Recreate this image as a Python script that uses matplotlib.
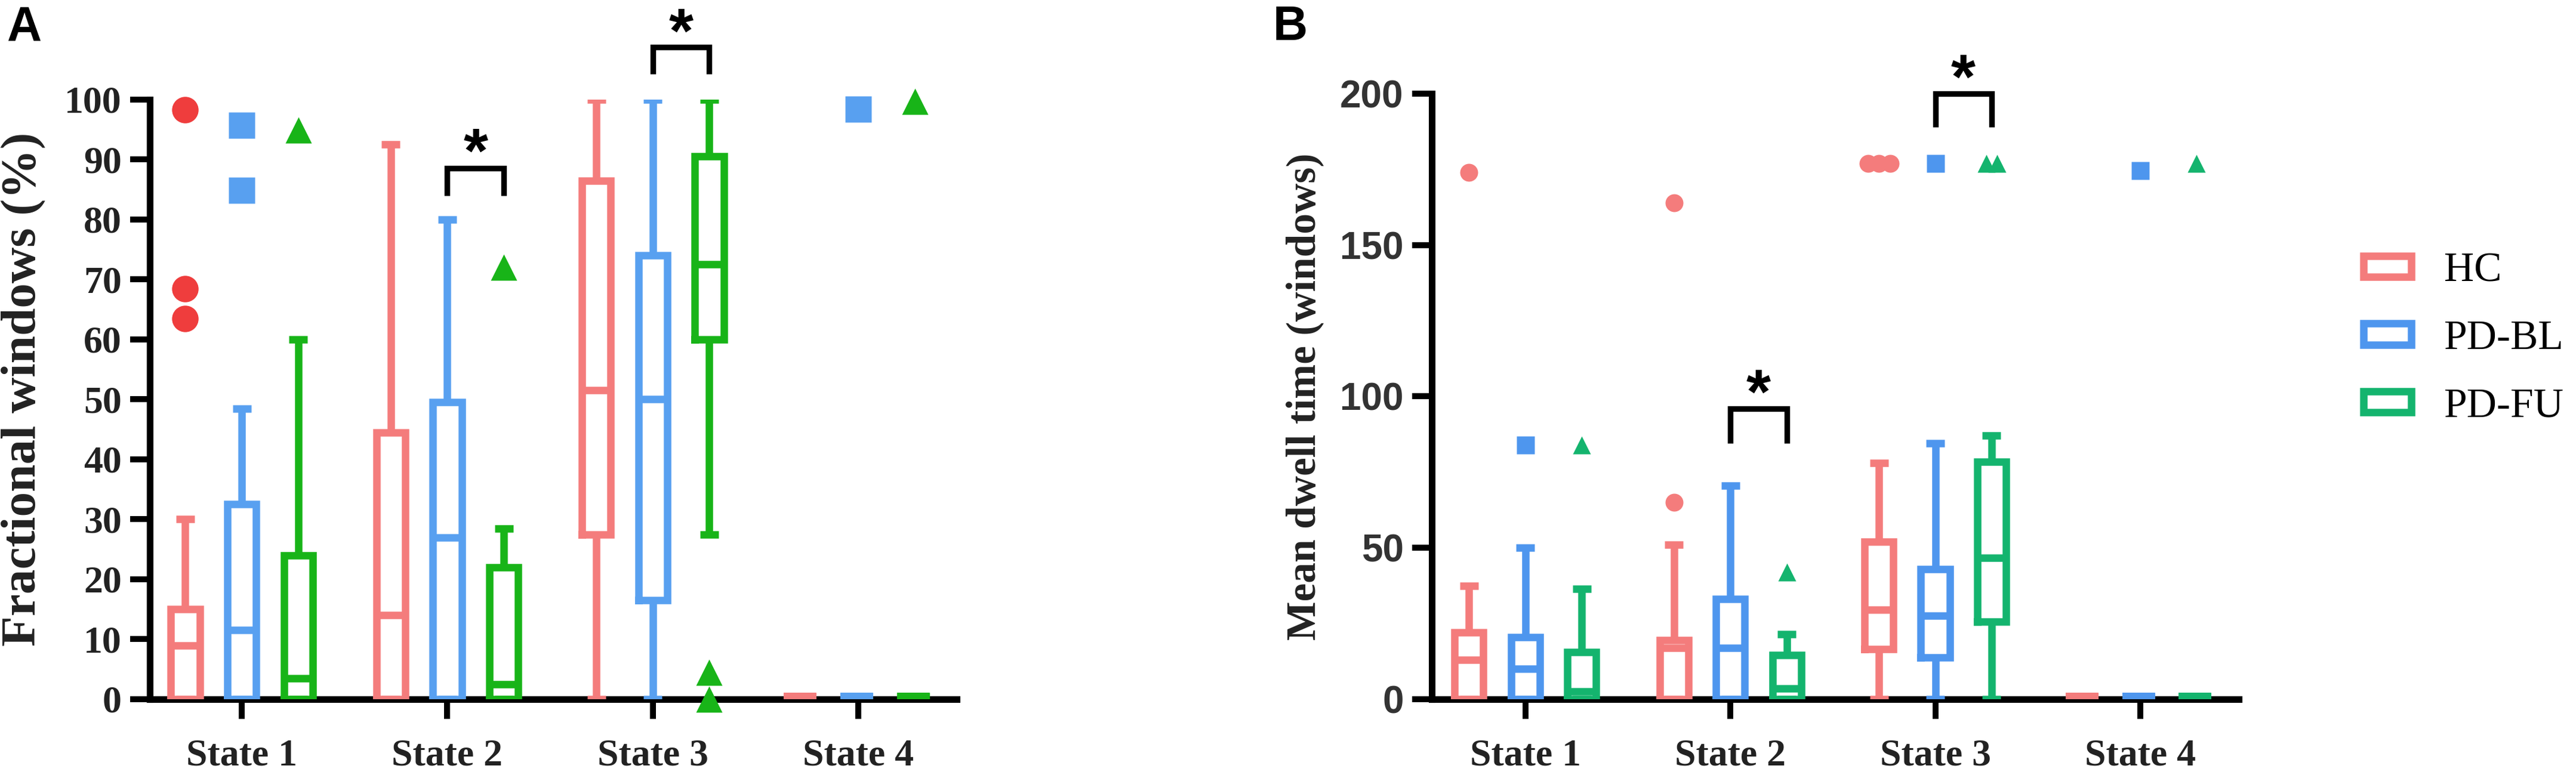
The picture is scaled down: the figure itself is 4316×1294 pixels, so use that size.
import matplotlib
matplotlib.use("Agg")
import matplotlib.pyplot as plt
from matplotlib.patches import Patch
import numpy as np

states = ["State 1", "State 2", "State 3", "State 4"]
groups = ["HC", "PD-BL", "PD-FU"]

# panel A: fractional windows (%)
fw_med = {"HC": [9, 14, 51.5, 0.5], "PD-BL": [11.5, 27, 50, 0.5], "PD-FU": [3.5, 2.5, 72.5, 0.5]}
fw_q1 = {"HC": [0, 0, 27.5, 0.5], "PD-BL": [0, 0, 16.5, 0.5], "PD-FU": [0, 0, 60, 0.5]}
fw_q3 = {"HC": [15, 44.5, 86.5, 0.5], "PD-BL": [32.5, 49.5, 74, 0.5], "PD-FU": [24, 22, 90.5, 0.5]}
fw_lo = {"HC": [0, 0, 0, 0.5], "PD-BL": [0, 0, 0, 0.5], "PD-FU": [0, 0, 27.5, 0.5]}
fw_hi = {"HC": [30, 92.5, 100, 0.5], "PD-BL": [48.5, 80, 100, 0.5], "PD-FU": [60, 28.5, 100, 0.5]}
fw_fliers = {"HC": [[98.3, 68.5, 63.5], [], [], []],
             "PD-BL": [[95.7, 84.9], [], [], [98.4]],
             "PD-FU": [[94.9], [72], [4.5, 0], [99.7]]}

# panel B: mean dwell time (windows)
dt_med = {"HC": [13, 17, 29.5, 1], "PD-BL": [10, 17, 27.5, 1], "PD-FU": [2.5, 3.5, 46.7, 1]}
dt_q1 = {"HC": [0, 0, 16.5, 1], "PD-BL": [0, 0, 13.8, 1], "PD-FU": [0, 0, 25.7, 1]}
dt_q3 = {"HC": [22, 19.5, 52, 1], "PD-BL": [20.5, 33, 43, 1], "PD-FU": [15.5, 14.5, 78.5, 1]}
dt_lo = {"HC": [0, 0, 0, 1], "PD-BL": [0, 0, 0, 1], "PD-FU": [0, 0, 0, 1]}
dt_hi = {"HC": [37.5, 51, 78, 1], "PD-BL": [50, 70.5, 84.5, 1], "PD-FU": [36.5, 21.5, 87, 1]}
dt_fliers = {"HC": [[174], [164, 65], [177, 177, 177], []],
             "PD-BL": [[84], [], [177], [174.5]],
             "PD-FU": [[84], [42], [177, 177], [177]]}

# significance brackets: (state index, bracket top, leg bottom, star centre)
fw_sig = [(1, 88.6, 84, 94), (2, 108.7, 104.3, 114)]
dt_sig = [(1, 96, 84.5, 106.6), (2, 200, 189, 210.6)]

colors_a = {"HC": "#F47C7C", "PD-BL": "#58A0F0", "PD-FU": "#18B418"}
flier_a = {"HC": "#EF3D3D", "PD-BL": "#58A0F0", "PD-FU": "#18B418"}
colors_b = {"HC": "#F47C7C", "PD-BL": "#4E96EE", "PD-FU": "#14B46E"}
markers = {"HC": "o", "PD-BL": "s", "PD-FU": "^"}
offsets = {"HC": -0.275, "PD-BL": 0.0, "PD-FU": 0.275}

LW = 4.5
SERIF = "Liberation Serif"
SANS = "Liberation Sans"
TXT = "#222222"


def spread(vals, step):
    # put equal values side by side, like Prism does
    out = []
    for v in vals:
        n = vals.count(v)
        k = sum(1 for _, w in out if w == v)
        out.append(((k - (n - 1) / 2) * step, v))
    return out


def draw_panel(ax, med, q1, q3, lo, hi, fliers, cols, fcols, msize, sig):
    for g in groups:
        c = cols[g]
        stats = [dict(med=med[g][i], q1=q1[g][i], q3=q3[g][i],
                      whislo=lo[g][i], whishi=hi[g][i], fliers=[])
                 for i in range(len(states))]
        pos = np.arange(len(states)) + offsets[g]
        ax.bxp(stats, positions=pos, widths=0.14, capwidths=0.09,
               showfliers=False, manage_ticks=False, zorder=3,
               boxprops=dict(color=c, lw=LW, solid_joinstyle="miter"),
               whiskerprops=dict(color=c, lw=LW, solid_capstyle="butt"),
               capprops=dict(color=c, lw=LW, solid_capstyle="butt"),
               medianprops=dict(color=c, lw=LW, solid_capstyle="butt"))
        for i, vals in enumerate(fliers[g]):
            for dx, v in spread(vals, 0.054):
                ax.plot(pos[i] + dx, v, marker=markers[g], ms=msize,
                        color=fcols[g], mec="none", ls="none",
                        clip_on=False, zorder=4)
    for i, top, leg, star in sig:
        x1 = i + offsets["PD-BL"]
        x2 = i + offsets["PD-FU"]
        ax.plot([x1, x1, x2, x2], [leg, top, top, leg], color="k", lw=3.4,
                solid_joinstyle="miter", solid_capstyle="butt",
                clip_on=False, zorder=4)
        ax.annotate("*", xy=((x1 + x2) / 2, star), xytext=(0, -0.58 * 38),
                    textcoords="offset points", ha="center", va="baseline",
                    fontsize=38, fontweight="bold", family=SANS,
                    annotation_clip=False)

    for s in ["top", "right"]:
        ax.spines[s].set_visible(False)
    for s in ["left", "bottom"]:
        ax.spines[s].set_linewidth(4)
        ax.spines[s].set_zorder(2.5)
    ax.set_xticks(np.arange(len(states)))
    ax.set_xticklabels(states, family=SERIF, fontweight="bold",
                       fontsize=23, color=TXT)
    ax.tick_params(axis="both", direction="out", length=12, width=3.6)
    ax.tick_params(axis="y", pad=5)
    ax.tick_params(axis="x", pad=12)


fig = plt.figure(figsize=(21.58, 6.47), dpi=200)
ax_a = fig.add_axes([0.0582, 0.0943, 0.3132, 0.7767])
ax_b = fig.add_axes([0.5558, 0.0943, 0.3133, 0.7844])

draw_panel(ax_a, fw_med, fw_q1, fw_q3, fw_lo, fw_hi, fw_fliers,
           colors_a, flier_a, 16, fw_sig)
ax_a.set_xlim(-0.447, 3.479)
ax_a.set_ylim(0, 100)
ax_a.set_yticks(np.arange(0, 101, 10))
ax_a.set_yticklabels([str(v) for v in range(0, 101, 10)], family=SERIF,
                     fontweight="bold", fontsize=23, color=TXT)
ax_a.set_ylabel("Fractional windows (%)", family=SERIF, fontweight="bold",
                fontsize=30, color=TXT)
ax_a.yaxis.set_label_coords(-0.1287, 0.517)

draw_panel(ax_b, dt_med, dt_q1, dt_q3, dt_lo, dt_hi, dt_fliers,
           colors_b, colors_b, 10.8, dt_sig)
ax_b.set_xlim(-0.457, 3.481)
ax_b.set_ylim(0, 200)
ax_b.set_yticks(np.arange(0, 201, 50))
ax_b.set_yticklabels([str(v) for v in range(0, 201, 50)], family=SANS,
                     fontweight="bold", fontsize=23, color="#333333")
ax_b.set_ylabel("Mean dwell time (windows)", family=SERIF, fontweight="bold",
                fontsize=25, color=TXT)
ax_b.yaxis.set_label_coords(-0.134, 0.50)

handles = [Patch(facecolor="white", edgecolor=colors_b[g], linewidth=LW)
           for g in groups]
ax_b.legend(handles, groups, loc="center left",
            bbox_to_anchor=(0.9175, 0.561), bbox_transform=fig.transFigure,
            frameon=False, prop={"family": SERIF, "size": 25},
            handlelength=1.15, handleheight=0.40, handletextpad=0.8,
            labelspacing=0.72, borderpad=0, borderaxespad=0)

fig.text(12 / 4316, 1 - 67 / 1294, "A", family=SANS, fontweight="bold",
         fontsize=29, va="baseline", ha="left")
fig.text(2133 / 4316, 1 - 67 / 1294, "B", family=SANS, fontweight="bold",
         fontsize=29, va="baseline", ha="left")

fig.savefig("out.png", dpi=200)
